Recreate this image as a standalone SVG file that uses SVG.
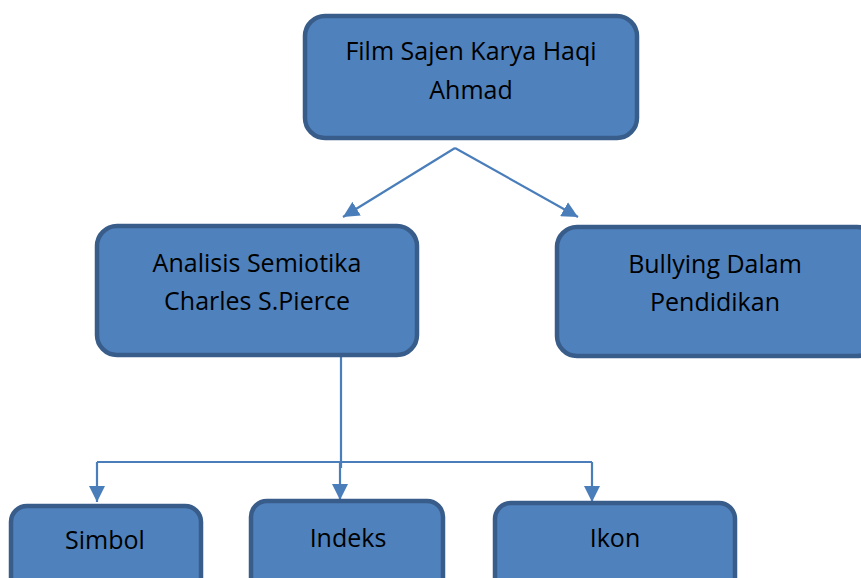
<svg xmlns="http://www.w3.org/2000/svg" width="861" height="578" viewBox="0 0 861 578">
<style>
.box{fill:#4f81bd;stroke:#385d8a;stroke-width:4.5}
.t{font-family:"Open Sans","Liberation Sans",sans-serif;font-size:25px;fill:#000;text-anchor:middle}
.c{fill:none;stroke:#4a7ebb;stroke-width:2.2}
</style>
<defs>
<marker id="ah2" viewBox="0 0 10 10" refX="10" refY="5" markerWidth="16" markerHeight="16" markerUnits="userSpaceOnUse" orient="auto">
<path d="M0,0 L10,5 L0,10 z" fill="#4a7ebb"/>
</marker>
</defs>
<g id="connectors">
<path class="c" d="M455,148 L343,217" marker-end="url(#ah2)"/>
<path class="c" d="M455,148 L578,217" marker-end="url(#ah2)"/>
<path class="c" d="M341,330 L341,468"/>
<path class="c" d="M97,462 L592,462"/>
<path class="c" d="M97,462 L97,502" marker-end="url(#ah2)"/>
<path class="c" d="M340,462 L340,500" marker-end="url(#ah2)"/>
<path class="c" d="M592,462 L592,502" marker-end="url(#ah2)"/>
</g>
<g id="film">
<rect class="box" x="305" y="16" width="332" height="122" rx="20"/>
<text class="t" x="471" y="60">Film Sajen Karya Haqi</text>
<text class="t" x="471" y="99">Ahmad</text>
</g>
<g id="analisis">
<rect class="box" x="97" y="226" width="320" height="129" rx="20"/>
<text class="t" x="257" y="272">Analisis Semiotika</text>
<text class="t" x="257" y="310">Charles S.Pierce</text>
</g>
<g id="bullying">
<rect class="box" x="557" y="227" width="320" height="129" rx="20"/>
<text class="t" x="715" y="273">Bullying Dalam</text>
<text class="t" x="715" y="311">Pendidikan</text>
</g>
<g id="simbol">
<rect class="box" x="11" y="506" width="190" height="90" rx="16"/>
<text class="t" x="105" y="549">Simbol</text>
</g>
<g id="indeks">
<rect class="box" x="251" y="501" width="192" height="95" rx="16"/>
<text class="t" x="348" y="547">Indeks</text>
</g>
<g id="ikon">
<rect class="box" x="495" y="503" width="240" height="93" rx="16"/>
<text class="t" x="615" y="547">Ikon</text>
</g>
</svg>
